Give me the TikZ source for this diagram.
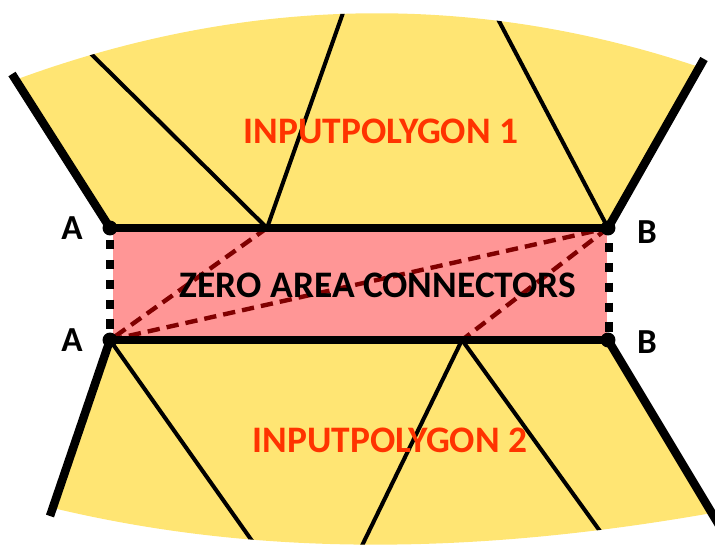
\documentclass[tikz,border=0pt]{standalone}
\usepackage{fontspec}
\setmainfont{Carlito}

\definecolor{polyfill}{RGB}{255,229,115}
\definecolor{connfill}{RGB}{255,150,150}
\definecolor{connline}{RGB}{128,0,0}
\definecolor{polytext}{RGB}{255,51,0}

\tikzset{
	border/.style={line width=4.8pt},
	split/.style={line width=2.3pt},
	diag/.style={connline, line width=2.5pt, dash pattern=on 7pt off 4pt},
	seam/.style={line width=5pt, dash pattern=on 5.4pt off 5.9pt},
	corner/.style={circle, fill, inner sep=0pt, minimum size=8.5pt},
	label/.style={font=\bfseries\fontsize{20}{24}\selectfont},
	title/.style={font=\bfseries\fontsize{21.3}{25}\selectfont},
}

% outlines of the two input polygons
\newcommand\toppoly{(TL) .. controls (240,-3) and (470,-10) .. (TR) -- (B1) -- (A1) -- cycle}
\newcommand\botpoly{(BL) .. controls (270,560) and (490,552) .. (BR) -- (B2) -- (A2) -- cycle}

\begin{document}
\begin{tikzpicture}[x=0.02cm, y=-0.02cm]
	\useasboundingbox (0,0) rectangle (715,545);
	\clip (0,0) rectangle (715,545);

	\coordinate (A1) at (110,228);
	\coordinate (B1) at (608,228);
	\coordinate (A2) at (110,340);
	\coordinate (B2) at (608,340);
	\coordinate (M1) at (267,228);
	\coordinate (M2) at (462,340);

	\coordinate (TL) at (15,80);
	\coordinate (TR) at (699,67);
	\coordinate (BL) at (53,508);
	\coordinate (BR) at (712,513);

	% polygon 1
	\fill[polyfill] \toppoly;
	\begin{scope}
		\clip \toppoly;
		\draw[split] (M1) -- (67,30);
		\draw[split] (M1) -- (350,-7);
		\draw[split] (B1) -- (490,4);
	\end{scope}

	% polygon 2
	\fill[polyfill] \botpoly;
	\begin{scope}
		\clip \botpoly;
		\draw[split] (A2) -- (262,555);
		\draw[split] (M2) -- (355,560);
		\draw[split] (M2) -- (610,545);
	\end{scope}

	% zero area connectors
	\fill[connfill] (113,231) rectangle (607,337);
	\draw[diag] (M1) -- (A2);
	\draw[diag] (A2) -- (B1);
	\draw[diag] (B1) -- (M2);

	\draw[seam] (110,240) -- (110,336);
	\draw[seam] (609,243) -- (609,336);

	% borders
	\draw[border] (A1) -- (B1);
	\draw[border] (A2) -- (B2);
	\draw[border] (A1) -- (12,74);
	\draw[border] (B1) -- (704,59);
	\draw[border] (A2) -- (50,516);
	\draw[border] (B2) -- (722,530);

	\node[corner] (a1) at (A1) {};
	\node[corner] (b1) at (B1) {};
	\node[corner] (a2) at (A2) {};
	\node[corner] (b2) at (B2) {};

	\node[label] (la1) at (72,228) {A};
	\node[label] (la2) at (72,340) {A};
	\node[label] (lb1) at (647,232) {B};
	\node[label] (lb2) at (647,342) {B};

	\node[title, text=polytext] (poly1) at (381,131) {INPUTPOLYGON 1};
	\node[title] (conn) at (378,285) {ZERO AREA CONNECTORS};
	\node[title, text=polytext] (poly2) at (390,440) {INPUTPOLYGON 2};
\end{tikzpicture}
\end{document}
